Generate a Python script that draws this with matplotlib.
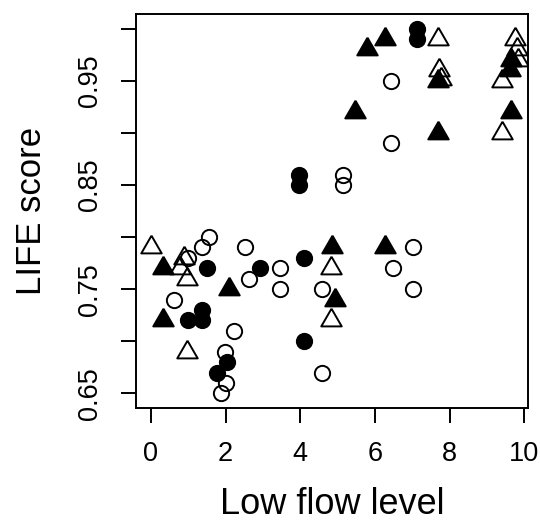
import matplotlib.pyplot as plt
import numpy as np

plt.rcParams['font.family'] = ['Liberation Sans', 'DejaVu Sans']

# open circles
oc_x = [1.56, 1.37, 0.98, 2.52, 2.63, 3.47, 3.47, 4.57, 0.63, 2.22, 1.98, 2.00, 1.89, 4.58,
        7.02, 6.48, 7.02, 6.44, 6.44, 5.14, 5.14]
oc_y = [0.80, 0.79, 0.78, 0.79, 0.76, 0.77, 0.75, 0.75, 0.74, 0.71, 0.69, 0.66, 0.65, 0.67,
        0.79, 0.77, 0.75, 0.95, 0.89, 0.86, 0.85]
# filled circles
fc_x = [3.96, 3.96, 1.49, 2.92, 4.09, 1.00, 1.37, 1.38, 2.03, 1.76, 4.09, 7.13, 7.13]
fc_y = [0.86, 0.85, 0.77, 0.77, 0.78, 0.72, 0.73, 0.72, 0.68, 0.67, 0.70, 1.00, 0.99]
# open triangles
ot_x = [0.00, 0.89, 0.78, 0.97, 0.97, 4.82, 4.82, 7.70, 7.71, 7.78, 9.76, 9.80, 9.84, 9.40, 9.40]
ot_y = [0.79, 0.78, 0.77, 0.76, 0.69, 0.77, 0.72, 0.99, 0.96, 0.952, 0.99, 0.98, 0.97, 0.95, 0.90]
# filled triangles
ft_x = [0.32, 0.33, 2.09, 4.86, 4.94, 6.26, 6.26, 5.79, 7.70, 5.46, 7.69, 9.65, 9.63, 9.65]
ft_y = [0.77, 0.72, 0.75, 0.79, 0.74, 0.79, 0.99, 0.98, 0.95, 0.92, 0.90, 0.97, 0.96, 0.92]

xticks = [0, 2, 4, 6, 8, 10]
yticks = [0.65, 0.70, 0.75, 0.80, 0.85, 0.90, 0.95, 1.00]
ylabels = ['0.65', '', '0.75', '', '0.85', '', '0.95', '']

# equilateral triangle centred on its centroid
tri = [(0, 1.555), (1.3468, -0.7776), (-1.3468, -0.7776), (0, 1.555)]

fig = plt.figure(figsize=(5.4, 5.24), dpi=100)
ax = fig.add_axes([136/540, 1-408/524, 392/540, 394/524])

lw = 1.4
ax.plot(oc_x, oc_y, 'o', ms=11, mfc='none', mec='black', mew=lw, ls='none')
ax.plot(fc_x, fc_y, 'o', ms=11, mfc='black', mec='black', mew=lw, ls='none')
ax.plot(ot_x, ot_y, marker=tri, ms=17, mfc='none', mec='black', mew=lw, ls='none')
ax.plot(ft_x, ft_y, marker=tri, ms=17, mfc='black', mec='black', mew=lw, ls='none')

ax.set_xlim(-0.4, 10.1)
ax.set_ylim(0.636, 1.014)
ax.set_xticks(xticks)
ax.set_xticklabels([str(t) for t in xticks])
ax.set_yticks(yticks)
ax.set_yticklabels(ylabels)
plt.setp(ax.get_yticklabels(), rotation=90, va='center')

ax.tick_params(direction='out', length=10.5, width=lw, labelsize=19.5, pad=13)
for s in ax.spines.values():
    s.set_linewidth(lw)

ax.set_xlabel('Low flow level', fontsize=26, labelpad=15)
ax.set_ylabel('LIFE score', fontsize=25, labelpad=21)

fig.savefig('out.png', dpi=100)
